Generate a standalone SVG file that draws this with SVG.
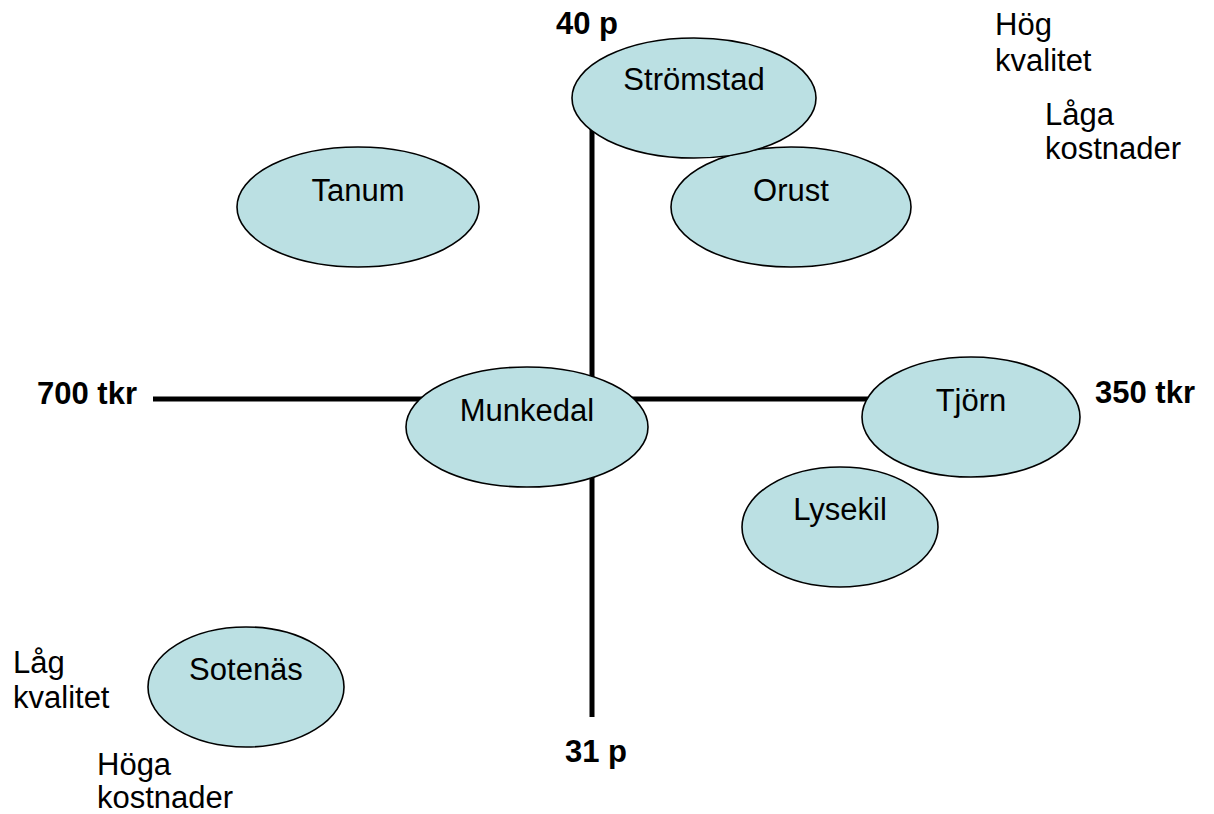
<svg xmlns="http://www.w3.org/2000/svg" width="1214" height="814" viewBox="0 0 1214 814">
<style>
.n{fill:#BBE0E3;stroke:#000;stroke-width:1.6}
.t{font-family:"Liberation Sans",Arial,sans-serif;font-size:31px;fill:#000}
.c{text-anchor:middle}
.b{font-weight:bold}
.ax{stroke:#000;stroke-width:5;fill:none}
</style>
<rect width="1214" height="814" fill="#fff"/>
<g id="connectors">
<line class="ax" x1="592" y1="100" x2="592" y2="717"/>
<line class="ax" x1="153" y1="399" x2="900" y2="399"/>
</g>
<g id="orust"><ellipse class="n" cx="791" cy="207" rx="120" ry="60"/><text class="t c" x="791" y="201">Orust</text></g>
<g id="stromstad"><ellipse class="n" cx="694" cy="98" rx="122" ry="60"/><text class="t c" x="694" y="90">Strömstad</text></g>
<g id="tanum"><ellipse class="n" cx="358" cy="207" rx="121" ry="60"/><text class="t c" x="358" y="201">Tanum</text></g>
<g id="munkedal"><ellipse class="n" cx="527" cy="427" rx="121" ry="60"/><text class="t c" x="527" y="421">Munkedal</text></g>
<g id="tjorn"><ellipse class="n" cx="971" cy="417" rx="109" ry="60"/><text class="t c" x="971" y="411">Tjörn</text></g>
<g id="lysekil"><ellipse class="n" cx="840" cy="527" rx="98" ry="60"/><text class="t c" x="840" y="520">Lysekil</text></g>
<g id="sotenas"><ellipse class="n" cx="246" cy="687" rx="98" ry="60"/><text class="t c" x="246" y="680">Sotenäs</text></g>
<g id="labels">
<text class="t b" x="556" y="34">40 p</text>
<text class="t b" x="565" y="762">31 p</text>
<text class="t b" x="37" y="404">700 tkr</text>
<text class="t b" x="1095" y="403">350 tkr</text>
<text class="t" x="995" y="35">Hög</text>
<text class="t" x="995" y="71">kvalitet</text>
<text class="t" x="1045" y="125">Låga</text>
<text class="t" x="1045" y="159">kostnader</text>
<text class="t" x="13" y="673">Låg</text>
<text class="t" x="13" y="708">kvalitet</text>
<text class="t" x="97" y="775">Höga</text>
<text class="t" x="97" y="808">kostnader</text>
</g>
</svg>
